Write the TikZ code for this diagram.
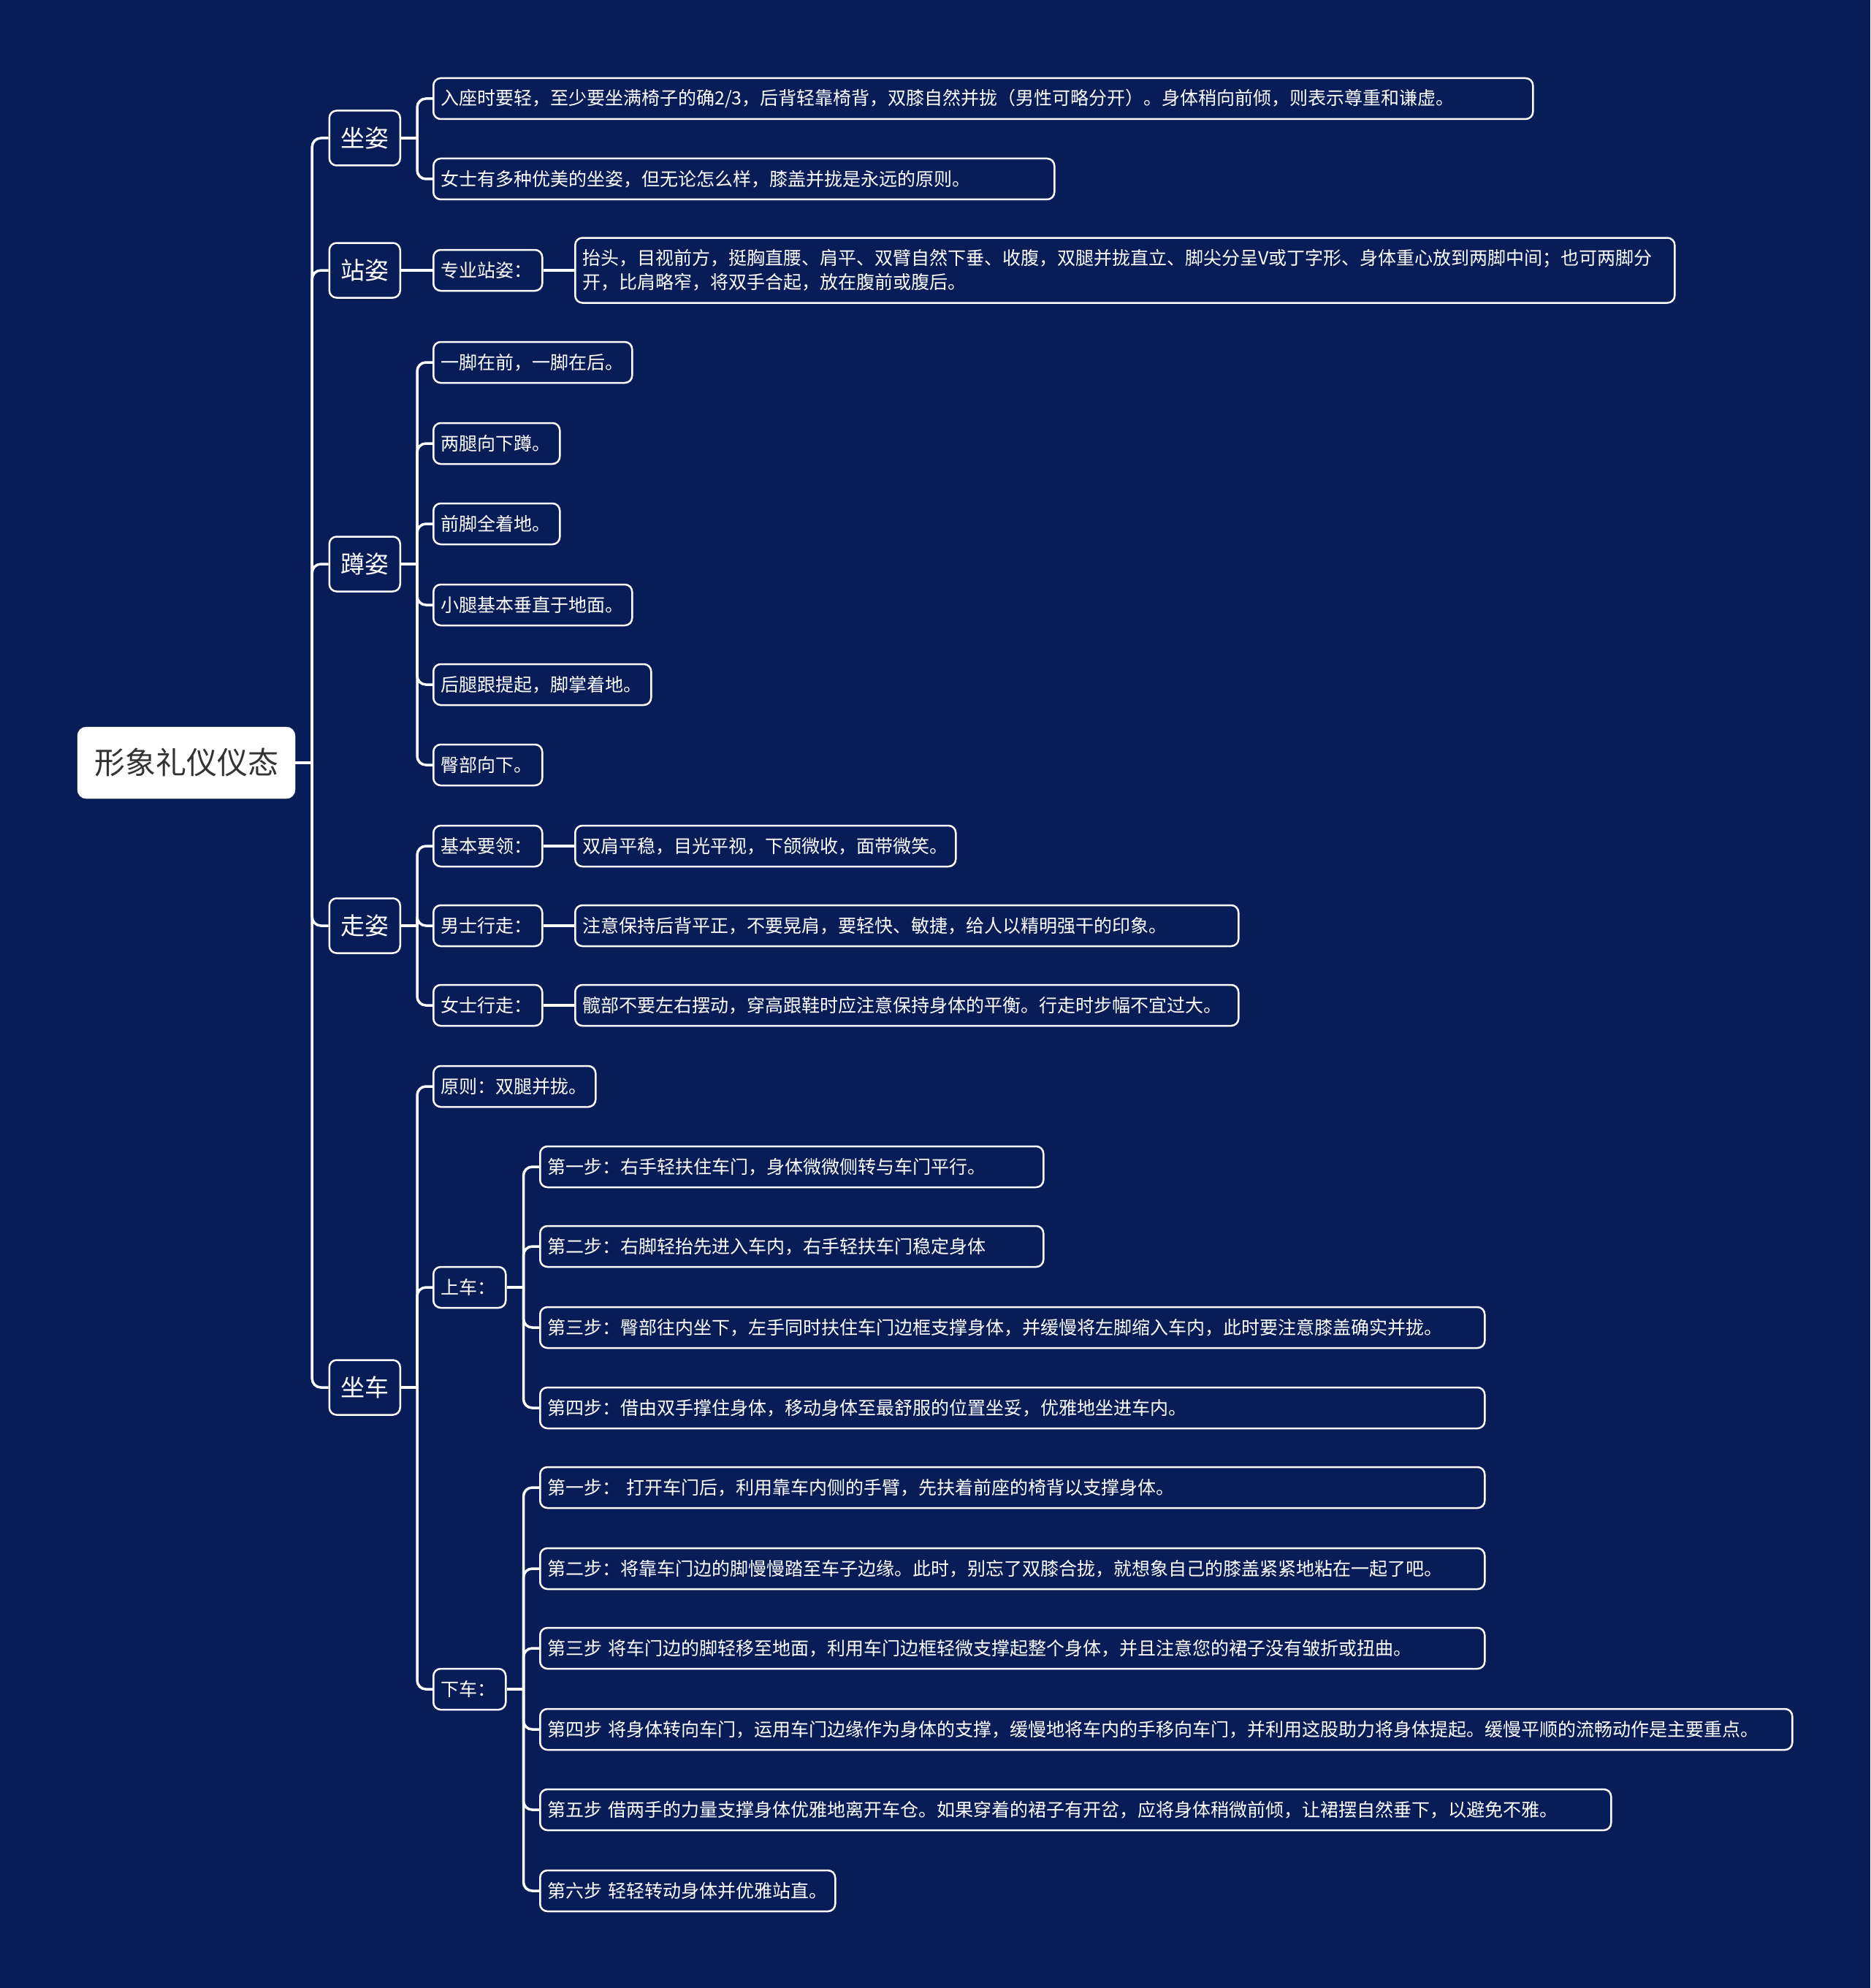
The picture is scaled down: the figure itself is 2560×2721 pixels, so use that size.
\documentclass[tikz,border=0pt]{standalone}
\usepackage{fontspec}
\newfontfamily\cjk{Noto Sans CJK SC}
\definecolor{bg}{RGB}{8,28,88}
\definecolor{roottext}{RGB}{51,51,51}
\begin{document}
\begin{tikzpicture}[x=1pt,y=-1pt,
  conn/.style={draw=white, line width=3.5pt, rounded corners=12pt},
  box/.style={draw=white, line width=2.5pt, rounded corners=10pt, fill=bg, text=white,
    font=\cjk\fontsize{25}{33}\selectfont, inner xsep=10pt, inner ysep=0pt,
    minimum height=56pt, anchor=west, align=left},
  lone/.style={draw=white, line width=2.5pt, rounded corners=10pt, fill=bg, text=white,
    font=\cjk\fontsize{33}{40}\selectfont, minimum width=97pt, minimum height=75pt,
    inner sep=0pt, anchor=west},
  rootbox/.style={fill=white, draw=white, rounded corners=12pt, text=roottext,
    font=\cjk\fontsize{42}{50}\selectfont, minimum width=298pt, minimum height=98pt, inner sep=0pt}
]
\fill[bg] (0,0) rectangle (2560,2721);
\useasboundingbox (0,0) rectangle (2560,2721);

% root and level 1
\node[rootbox] (root) at (255,1044) {形象礼仪仪态};
\node[lone] (zz) at (449.5,189) {坐姿};
\node[lone] (zl) at (449.5,370) {站姿};
\node[lone] (dz) at (449.5,772) {蹲姿};
\node[lone] (wz) at (449.5,1267) {走姿};
\node[lone] (zc) at (449.5,1899) {坐车};

% 坐姿
\node[box, text width=1485pt] (zz1) at (592,135) {入座时要轻，至少要坐满椅子的确2/3，后背轻靠椅背，双膝自然并拢（男性可略分开）。身体稍向前倾，则表示尊重和谦虚。};
\node[box, text width=830pt] (zz2) at (592,245) {女士有多种优美的坐姿，但无论怎么样，膝盖并拢是永远的原则。};

% 站姿
\node[box, text width=129pt] (zl1) at (592,370) {专业站姿：};
\node[box, text width=1485pt, minimum height=89pt] (zl2) at (786,370) {抬头，目视前方，挺胸直腰、肩平、双臂自然下垂、收腹，双腿并拢直立、脚尖分呈V或丁字形、身体重心放到两脚中间；也可两脚分\\开，比肩略窄，将双手合起，放在腹前或腹后。};

% 蹲姿
\node[box, text width=252pt] (dz1) at (592,496) {一脚在前，一脚在后。};
\node[box, text width=153pt] (dz2) at (592,607) {两腿向下蹲。};
\node[box, text width=153pt] (dz3) at (592,717) {前脚全着地。};
\node[box, text width=252pt] (dz4) at (592,828) {小腿基本垂直于地面。};
\node[box, text width=278pt] (dz5) at (592,937) {后腿跟提起，脚掌着地。};
\node[box, text width=129pt] (dz6) at (592,1047) {臀部向下。};

% 走姿
\node[box, text width=129pt] (wz1) at (592,1158) {基本要领：};
\node[box, text width=129pt] (wz2) at (592,1267) {男士行走：};
\node[box, text width=129pt] (wz3) at (592,1376) {女士行走：};
\node[box, text width=501pt] (wz1v) at (786,1158) {双肩平稳，目光平视，下颌微收，面带微笑。};
\node[box, text width=888pt] (wz2v) at (786,1267) {注意保持后背平正，不要晃肩，要轻快、敏捷，给人以精明强干的印象。};
\node[box, text width=888pt] (wz3v) at (786,1376) {髋部不要左右摆动，穿高跟鞋时应注意保持身体的平衡。行走时步幅不宜过大。};

% 坐车
\node[box, text width=202pt] (zc1) at (592,1487) {原则：双腿并拢。};
\node[box, text width=79pt] (sc) at (592,1762) {上车：};
\node[box, text width=79pt] (xc) at (592,2312) {下车：};

\node[box, text width=669pt] (sc1) at (738,1597) {第一步：右手轻扶住车门，身体微微侧转与车门平行。};
\node[box, text width=669pt] (sc2) at (738,1706) {第二步：右脚轻抬先进入车内，右手轻扶车门稳定身体};
\node[box, text width=1273pt] (sc3) at (738,1817) {第三步：臀部往内坐下，左手同时扶住车门边框支撑身体，并缓慢将左脚缩入车内，此时要注意膝盖确实并拢。};
\node[box, text width=1273pt] (sc4) at (738,1927) {第四步：借由双手撑住身体，移动身体至最舒服的位置坐妥，优雅地坐进车内。};

\node[box, text width=1273pt] (xc1) at (738,2036) {第一步： 打开车门后，利用靠车内侧的手臂，先扶着前座的椅背以支撑身体。};
\node[box, text width=1273pt] (xc2) at (738,2147) {第二步：将靠车门边的脚慢慢踏至车子边缘。此时，别忘了双膝合拢，就想象自己的膝盖紧紧地粘在一起了吧。};
\node[box, text width=1273pt] (xc3) at (738,2256) {第三步 将车门边的脚轻移至地面，利用车门边框轻微支撑起整个身体，并且注意您的裙子没有皱折或扭曲。};
\node[box, text width=1694pt] (xc4) at (738,2367) {第四步 将身体转向车门，运用车门边缘作为身体的支撑，缓慢地将车内的手移向车门，并利用这股助力将身体提起。缓慢平顺的流畅动作是主要重点。};
\node[box, text width=1446pt] (xc5) at (738,2477) {第五步 借两手的力量支撑身体优雅地离开车仓。如果穿着的裙子有开岔，应将身体稍微前倾，让裙摆自然垂下，以避免不雅。};
\node[box, text width=384pt] (xc6) at (738,2588) {第六步 轻轻转动身体并优雅站直。};

% connectors
\path (root.east) ++(23,0) coordinate (rJ);
\draw[conn] (root.east) -- (rJ);
\foreach \c in {zz,zl,dz,wz,zc} \draw[conn] (rJ) |- (\c.west);

\path (zz.east) ++(22,0) coordinate (zzJ);
\draw[conn] (zz.east) -- (zzJ);
\foreach \c in {zz1,zz2} \draw[conn] (zzJ) |- (\c.west);

\draw[conn] (zl.east) -- (zl1.west);
\draw[conn] (zl1.east) -- (zl2.west);

\path (dz.east) ++(22,0) coordinate (dzJ);
\draw[conn] (dz.east) -- (dzJ);
\foreach \c in {dz1,dz2,dz3,dz4,dz5,dz6} \draw[conn] (dzJ) |- (\c.west);

\path (wz.east) ++(22,0) coordinate (wzJ);
\draw[conn] (wz.east) -- (wzJ);
\foreach \c in {wz1,wz2,wz3} \draw[conn] (wzJ) |- (\c.west);
\draw[conn] (wz1.east) -- (wz1v.west);
\draw[conn] (wz2.east) -- (wz2v.west);
\draw[conn] (wz3.east) -- (wz3v.west);

\path (zc.east) ++(22,0) coordinate (zcJ);
\draw[conn] (zc.east) -- (zcJ);
\foreach \c in {zc1,sc,xc} \draw[conn] (zcJ) |- (\c.west);

\path (sc.east) ++(23,0) coordinate (scJ);
\draw[conn] (sc.east) -- (scJ);
\foreach \c in {sc1,sc2,sc3,sc4} \draw[conn] (scJ) |- (\c.west);

\path (xc.east) ++(23,0) coordinate (xcJ);
\draw[conn] (xc.east) -- (xcJ);
\foreach \c in {xc1,xc2,xc3,xc4,xc5,xc6} \draw[conn] (xcJ) |- (\c.west);
\end{tikzpicture}
\end{document}
